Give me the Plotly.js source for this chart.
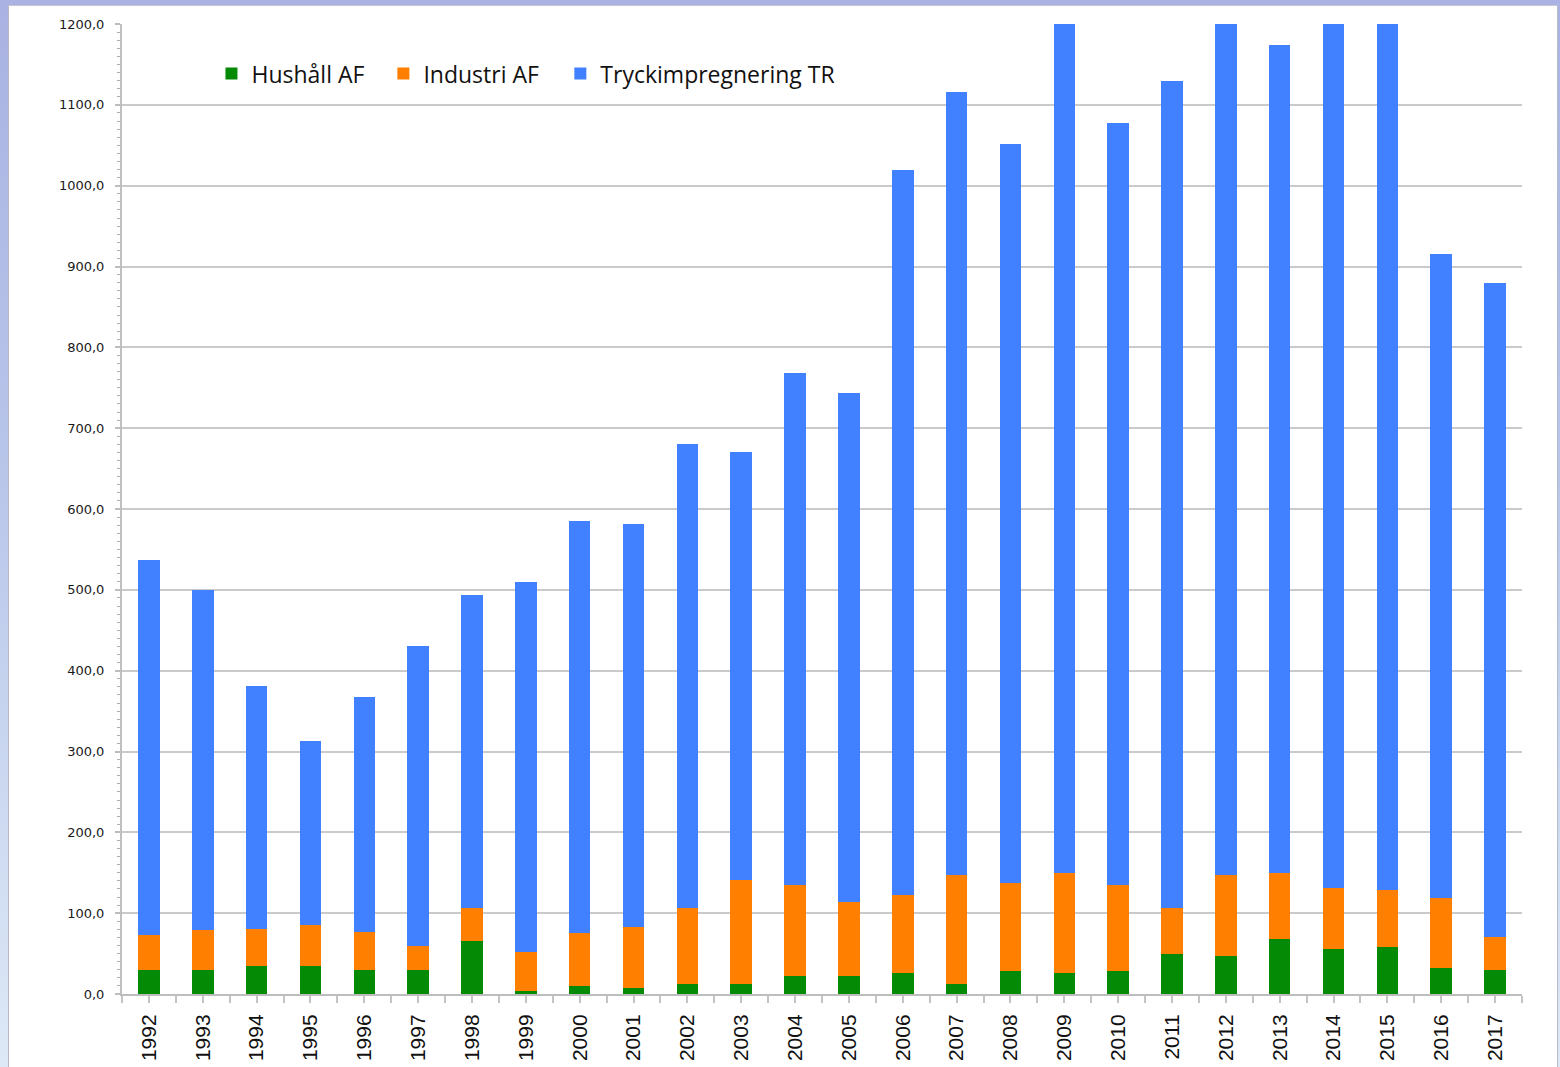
<!DOCTYPE html>
<html>
<head>
<meta charset="utf-8">
<script src="https://cdn.plot.ly/plotly-3.0.1.min.js"></script>
<style>
  html, body { margin: 0; padding: 0; width: 1560px; height: 1067px; overflow: hidden; }
  body { background: linear-gradient(180deg, #a9b2e2 0%, #b9c6ea 45%, #dde9f6 100%); position: relative; }
  #panel { position: absolute; left: 8px; top: 5px; width: 1548px; height: 1070px; background: #ffffff; border-left: 1px solid #b8bcc8; border-top: 1px solid #c4c8d4; border-right: 1px solid #b8bcc8; }
  #chart { position: absolute; left: 0; top: 0; width: 1560px; height: 1067px; }
</style>
</head>
<body>
<div id="panel"></div>
<div id="chart"></div>
<script>
const years = [1992, 1993, 1994, 1995, 1996, 1997, 1998, 1999, 2000, 2001, 2002, 2003, 2004,
               2005, 2006, 2007, 2008, 2009, 2010, 2011, 2012, 2013, 2014, 2015, 2016, 2017];
const yearLabels = ["1992","1993","1994","1995","1996","1997","1998","1999","2000","2001","2002","2003","2004",
                    "2005","2006","2007","2008","2009","2010","2011","2012","2013","2014","2015","2016","2017"];
const hushallAF = [30, 30, 35, 35, 30, 30, 66, 4, 10, 7, 12, 12, 22, 22, 26, 12, 28, 26, 28, 49, 47, 68, 56, 58, 32, 30];
const industriAF = [43, 49, 46, 50, 47, 30, 40, 48, 65, 76, 94, 129, 113, 92, 97, 135, 109, 124, 107, 57, 100, 82, 75, 71, 87, 40];
const tryckimpregneringTR = [464, 421, 300, 228, 291, 370, 388, 458, 510, 498, 574, 529, 633, 629, 897, 969, 914, 1090, 943, 1024, 1090, 1024, 1100, 1100, 797, 810];
const seriesNames = ["Hushåll AF", "Industri AF", "Tryckimpregnering TR"];
const yTicks = [0, 100, 200, 300, 400, 500, 600, 700, 800, 900, 1000, 1100, 1200];

const colors = ["#048a04", "#ff7f00", "#4181ff"];
const values = [hushallAF, industriAF, tryckimpregneringTR];
const legendIds = ["legend", "legend2", "legend3"];
const legendX = [0.0639, 0.1867, 0.3131];

const traces = values.map((v, i) => ({
  type: "bar",
  x: years,
  y: v,
  name: seriesNames[i],
  legend: legendIds[i],
  marker: { color: colors[i], line: { width: 0 } },
  hoverinfo: "x+y+name"
}));

function legendStyle(x) {
  return {
    orientation: "h",
    x: x, xanchor: "left",
    y: 0.971, yanchor: "top",
    bgcolor: "rgba(0,0,0,0)",
    font: { family: "Open Sans, sans-serif", size: 23, color: "#111111" },
    itemwidth: 30
  };
}

const layout = {
  width: 1560,
  height: 1067,
  margin: { l: 122, r: 38, t: 24, b: 73, pad: 0 },
  paper_bgcolor: "rgba(0,0,0,0)",
  plot_bgcolor: "#ffffff",
  barmode: "stack",
  bargap: 0.6,
  separators: ", ",
  showlegend: true,
  legend: legendStyle(legendX[0]),
  legend2: legendStyle(legendX[1]),
  legend3: legendStyle(legendX[2]),
  xaxis: {
    type: "linear",
    range: [1991.5, 2017.5],
    tickmode: "array",
    tickvals: years,
    ticktext: yearLabels,
    tickangle: -90,
    ticks: "outside",
    ticklen: 7,
    tickwidth: 2,
    tickcolor: "#c4c4c4",
    ticklabelstandoff: 3,
    minor: { tickmode: "linear", tick0: 1991.5, dtick: 0.5, ticks: "outside", ticklen: 7, tickwidth: 2, tickcolor: "#c4c4c4", showgrid: false },
    showgrid: false,
    zeroline: false,
    showline: true,
    linecolor: "#bdbdbd",
    linewidth: 2,
    tickfont: { family: "Liberation Sans, Arial, sans-serif", size: 21, color: "#111111" },
    fixedrange: true
  },
  yaxis: {
    range: [0, 1200],
    tickmode: "array",
    tickvals: yTicks,
    tickformat: ".1f",
    ticks: "outside",
    ticklen: 5,
    tickwidth: 2,
    tickcolor: "#bdbdbd",
    ticklabelstandoff: 8,
    minor: { tickmode: "linear", tick0: 0, dtick: 10, ticks: "outside", ticklen: 3, tickwidth: 1, tickcolor: "#b0b0b0", showgrid: false },
    showgrid: true,
    gridcolor: "#cacaca",
    gridwidth: 2,
    zeroline: false,
    showline: true,
    linecolor: "#c0c0c0",
    linewidth: 2,
    tickfont: { family: "DejaVu Sans, sans-serif", size: 13, color: "#1a1a1a" },
    fixedrange: true
  }
};

Plotly.newPlot("chart", traces, layout, { displayModeBar: false, staticPlot: true });
</script>
</body>
</html>
